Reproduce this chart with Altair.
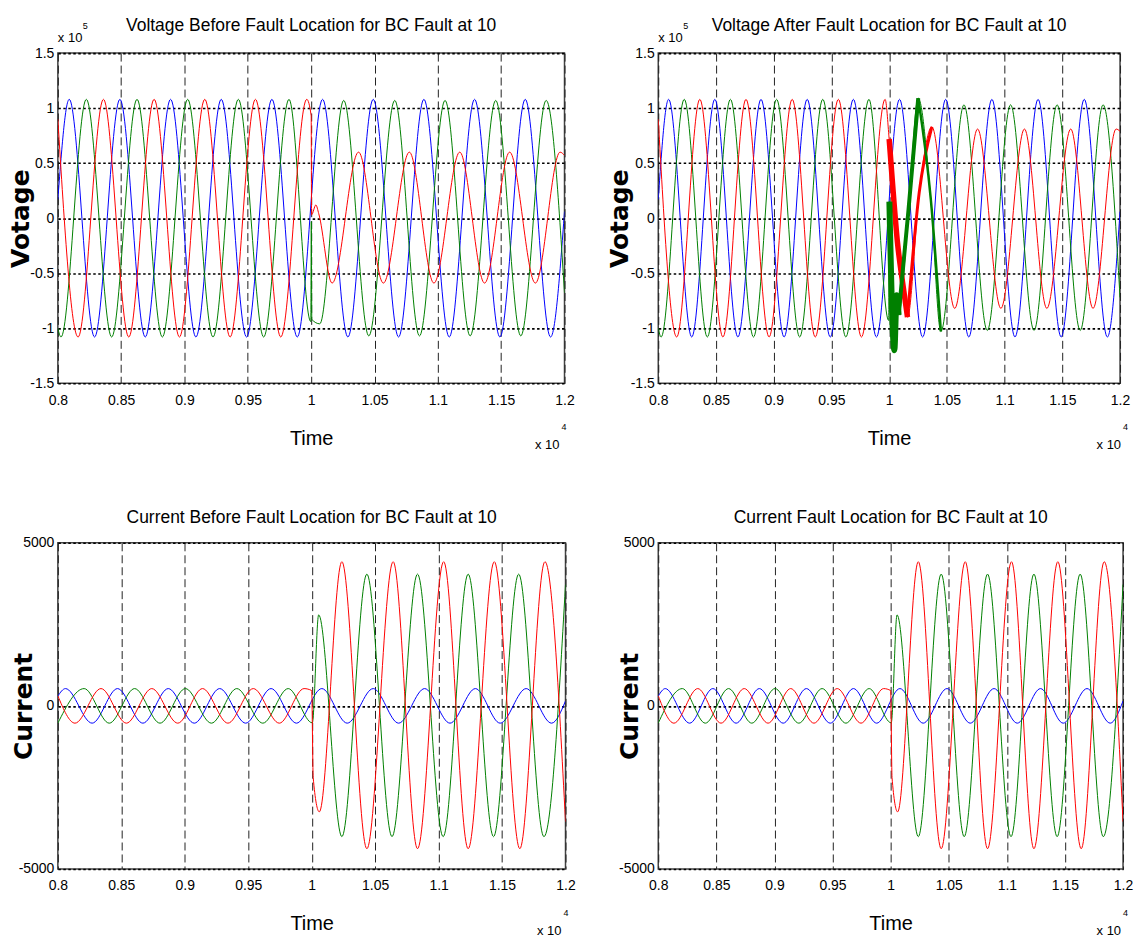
import altair as alt
import pandas as pd

FONT = "Liberation Sans"
WIDE_BOLD = "DejaVu Sans"
RED, GREEN, BLUE = "#ff0000", "#008000", "#0000ff"

# ---- axes (time in units of 10^4, voltage in units of 10^5) ----
X_TICKS = [0.8, 0.85, 0.9, 0.95, 1.0, 1.05, 1.1, 1.15, 1.2]
V_TICKS = [-1.5, -1.0, -0.5, 0.0, 0.5, 1.0, 1.5]
I_TICKS = [-5000, 0, 5000]

TITLE_TL = "Voltage Before Fault Location for BC Fault at 10"
TITLE_TR = "Voltage After Fault Location for BC Fault at 10"
TITLE_BL = "Current Before Fault Location for BC Fault at 10"
TITLE_BR = "Current Fault Location for BC Fault at 10"

# ---- voltage, phase A (blue): same in both voltage panels (extrema) ----
V_BLUE_T = [0.800, 0.809, 0.829, 0.849, 0.869, 0.889, 0.909, 0.929, 0.949, 0.969, 0.989,
            1.009, 1.029, 1.049, 1.069, 1.089, 1.109, 1.129, 1.149, 1.169, 1.189, 1.200]
V_BLUE_V = [0.17, 1.08, -1.08, 1.08, -1.08, 1.08, -1.08, 1.08, -1.08, 1.08, -1.08,
            1.08, -1.08, 1.08, -1.08, 1.08, -1.08, 1.08, -1.08, 1.08, -1.08, 0.06]

# ---- voltage, phases C (red) and B (green) before the fault instant ----
V_RED_PRE_T = [0.800, 0.816, 0.836, 0.856, 0.876, 0.896, 0.916, 0.936, 0.956, 0.976, 0.9965]
V_RED_PRE_V = [0.90, -1.08, 1.08, -1.08, 1.08, -1.08, 1.08, -1.08, 1.08, -1.08, 1.08]
V_GREEN_PRE_T = [0.800, 0.8025, 0.8225, 0.8425, 0.8625, 0.8825, 0.9025, 0.9225, 0.9425, 0.9625, 0.9825]
V_GREEN_PRE_V = [-1.00, -1.08, 1.08, -1.08, 1.08, -1.08, 1.08, -1.08, 1.08, -1.08, 1.08]

# ---- "Voltage Before" panel, after the fault instant ----
VB_RED_T = [1.0000, 1.0003, 1.0037, 1.0060, 1.0165, 1.0374, 1.0570, 1.0775, 1.0969, 1.1173,
            1.1369, 1.1567, 1.1770, 1.1965, 1.2000]
VB_RED_V = [0.93, 0.03, 0.12, 0.04, -0.59, 0.60, -0.59, 0.60, -0.59, 0.60,
            -0.59, 0.60, -0.59, 0.60, 0.57]
VB_GREEN_T = [0.9997, 1.0001, 1.0005, 1.0068, 1.0257, 1.0455, 1.0660, 1.0855, 1.1057, 1.1255,
              1.1457, 1.1655, 1.1855, 1.2000]
VB_GREEN_V = [-0.94, -0.03, -0.92, -0.96, 1.07, -1.07, 1.07, -1.07, 1.07, -1.07,
              1.07, -1.07, 1.07, -0.68]

# ---- "Voltage After" panel, after the fault instant ----
VA_RED_T = [1.0000, 1.0029, 1.0072, 1.0116, 1.0159, 1.0260, 1.0370, 1.0568, 1.0766, 1.0968,
            1.1172, 1.1366, 1.1573, 1.1766, 1.1966, 1.2000]
VA_RED_V = [0.72, 0.32, -0.22, -0.58, -0.90, 0.23, 0.83, -0.82, 0.81, -0.82,
            0.81, -0.82, 0.81, -0.82, 0.81, 0.79]
VA_GREEN_T = [0.9996, 1.0002, 1.0045, 1.0065, 1.0082, 1.0168, 1.0252, 1.0361, 1.0448, 1.0648,
              1.0850, 1.1052, 1.1255, 1.1455, 1.1655, 1.1853, 1.2000]
VA_GREEN_V = [-0.93, 0.15, -1.20, -0.70, -0.88, 0.08, 1.09, 0.17, -1.03, 1.03,
              -1.02, 1.03, -1.02, 1.03, -1.02, 1.03, -0.72]

# ---- currents (both current panels show the same traces) ----
I_BLUE_T = [0.800, 0.806, 0.827, 0.847, 0.867, 0.887, 0.9075, 0.9275, 0.948, 0.968, 0.988,
            1.008, 1.028, 1.0485, 1.0685, 1.089, 1.109, 1.129, 1.1485, 1.169, 1.189, 1.200]
I_BLUE_V = [300, 530, -530, 530, -530, 530, -530, 530, -530, 530, -530,
            530, -530, 530, -530, 530, -530, 530, -530, 530, -530, 150]
I_RED_T = [0.800, 0.8135, 0.834, 0.854, 0.874, 0.8945, 0.914, 0.934, 0.954, 0.9745, 0.994,
           1.0000, 1.0012, 1.0060, 1.0238, 1.0435, 1.0642, 1.0834, 1.1040, 1.1233, 1.1439,
           1.1640, 1.1838, 1.2000]
I_RED_V = [310, -530, 530, -530, 530, -530, 530, -530, 530, -530, 530,
           470, -2200, -3250, 4420, -4380, 4420, -4380, 4420, -4380, 4420,
           -4380, 4420, -3550]
I_GREEN_T = [0.800, 0.8207, 0.8405, 0.8605, 0.8805, 0.9005, 0.921, 0.941, 0.9615, 0.9815,
             1.0005, 1.0055, 1.0238, 1.0435, 1.0633, 1.0834, 1.1036, 1.1233, 1.1433, 1.1631,
             1.1830, 1.2000]
I_GREEN_V = [-530, 530, -530, 530, -530, 530, -530, 530, -530, 530,
             -520, 2790, -4010, 4040, -4010, 4040, -4010, 4040, -4010, 4040,
             -4010, 3720]

ONE = pd.DataFrame({"k": [0]})


def frame(t, v):
    return pd.DataFrame({"t": t, "v": v})


def axes(w, h, ytitle, yticks, ytitle_x):
    xa = alt.Axis(values=X_TICKS, labelExpr="'' + datum.value", title="Time",
                  titleFont=FONT, titleFontSize=20, titleFontWeight="normal", titleColor="black",
                  titleX=w / 2, titleY=61, titleBaseline="alphabetic", titleAlign="center",
                  grid=True, gridDash=[8, 4], gridColor="#222222", gridWidth=1, gridOpacity=1,
                  domain=False, ticks=False, labelFont=FONT, labelFontSize=14, labelColor="black",
                  labelPadding=10, labelFlush=False, labelOverlap=False)
    ya = alt.Axis(values=yticks, labelExpr="'' + datum.value", title=ytitle,
                  titleFont=WIDE_BOLD, titleFontSize=25, titleFontWeight="bold", titleColor="black",
                  titleAngle=270, titleX=ytitle_x, titleY=h / 2, titleBaseline="middle",
                  titleAlign="center",
                  grid=True, gridDash=[2.5, 2.5], gridColor="black", gridWidth=1.6, gridOpacity=1,
                  domain=False, ticks=False, labelFont=FONT, labelFontSize=14, labelColor="black",
                  labelPadding=4, labelFlush=False, labelOverlap=False)
    return xa, ya


def line(d, color, width, xs, ys, xa, ya):
    return alt.Chart(d).mark_line(interpolate="monotone", color=color, strokeWidth=width,
                                  clip=True).encode(
        x=alt.X("t:Q", scale=xs, axis=xa),
        y=alt.Y("v:Q", scale=ys, axis=ya))


def text(s, x, y, size, align="left"):
    return alt.Chart(ONE).mark_text(text=s, font=FONT, fontSize=size, align=align,
                                    baseline="alphabetic", color="black").encode(
        x=alt.value(x), y=alt.value(y))


def anchor(x, y):
    return alt.Chart(ONE).mark_rect(opacity=0).encode(
        x=alt.value(x), x2=alt.value(x + 1), y=alt.value(y), y2=alt.value(y + 1))


XS = alt.Scale(domain=[0.8, 1.2], nice=False, zero=False)
VS = alt.Scale(domain=[-1.5, 1.5], nice=False, zero=False)
IS = alt.Scale(domain=[-5000, 5000], nice=False, zero=False)


def x10_bottom(w, h, right):
    return [text("x 10", right, h + 66, 13, align="right"),
            text("4", right + 2, h + 47, 9)]


def voltage_panel(title, red_t, red_v, green_t, green_v, w, h, ytx, x10x, thick=(), extra=()):
    xa, ya = axes(w, h, "Votage", V_TICKS, ytx)
    layers = [
        line(frame(V_BLUE_T, V_BLUE_V), BLUE, 1, XS, VS, xa, ya),
        line(frame(V_GREEN_PRE_T + green_t, V_GREEN_PRE_V + green_v), GREEN, 1, XS, VS, xa, ya),
        line(frame(V_RED_PRE_T + red_t, V_RED_PRE_V + red_v), RED, 1, XS, VS, xa, ya),
    ]
    for (tt, vv, col, wd) in thick:
        layers.append(line(frame(tt, vv), col, wd, XS, VS, xa, ya))
    layers += [
        text(title, w / 2, -22, 17.5, align="center"),
        text("x 10", 0, -11, 13),
        text("5", 25, -24, 9),
    ]
    layers += x10_bottom(w, h, x10x)
    layers += list(extra)
    return alt.layer(*layers).properties(width=w, height=h)


def current_panel(title, w, h, ytx, x10x, extra=()):
    xa, ya = axes(w, h, "Current", I_TICKS, ytx)
    layers = [
        line(frame(I_BLUE_T, I_BLUE_V), BLUE, 1, XS, IS, xa, ya),
        line(frame(I_GREEN_T, I_GREEN_V), GREEN, 1, XS, IS, xa, ya),
        line(frame(I_RED_T, I_RED_V), RED, 1, XS, IS, xa, ya),
        text(title, w / 2, -20, 17.5, align="center"),
    ]
    layers += x10_bottom(w, h, x10x)
    layers += list(extra)
    return alt.layer(*layers).properties(width=w, height=h)


# thick (noisy) parts of the faulted traces in the "Voltage After" panel
THICK_TR = [
    (VA_RED_T[0:5], VA_RED_V[0:5], RED, 5.5),
    (VA_RED_T[4:7], VA_RED_V[4:7], RED, 3),
    (VA_GREEN_T[1:5], VA_GREEN_V[1:5], GREEN, 6),
    (VA_GREEN_T[4:7], VA_GREEN_V[4:7], GREEN, 4),
    (VA_GREEN_T[6:9], VA_GREEN_V[6:9], GREEN, 2.5),
]

TL = voltage_panel(TITLE_TL, VB_RED_T, VB_RED_V, VB_GREEN_T, VB_GREEN_V, 508, 331, -37, 503,
                   extra=[anchor(-57, -51)])
TR = voltage_panel(TITLE_TR, VA_RED_T, VA_RED_V, VA_GREEN_T, VA_GREEN_V, 463, 331, -39, 464,
                   thick=THICK_TR)
BL = current_panel(TITLE_BL, 509, 327, -34, 505)
BR = current_panel(TITLE_BR, 466, 327, -29, 464, extra=[anchor(474, 395)])

chart = alt.concat(TL, TR, BL, BR, columns=2, bounds="flush",
                   spacing=alt.RowColnumber(row=160, column=93)).properties(
    padding=0, background="white"
).configure_view(stroke="#444444", strokeWidth=1.5)

chart.save("out.html", embed_options={"renderer": "svg", "actions": False})
